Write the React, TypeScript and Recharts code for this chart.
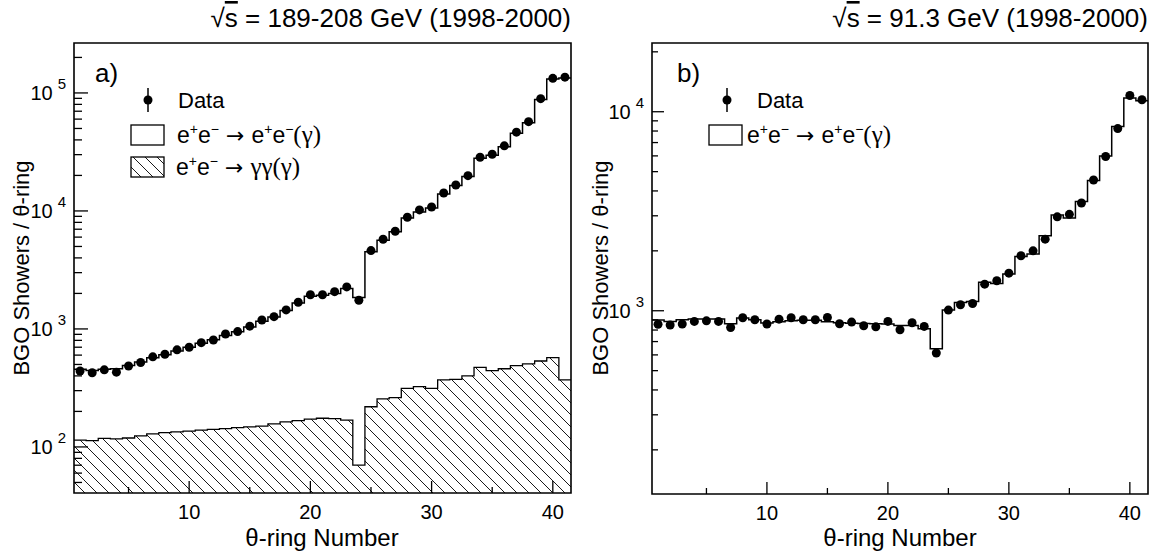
import React from 'react';
import { ComposedChart, Area, Line, Scatter, XAxis, YAxis, ReferenceArea } from 'recharts';

// theta-ring index of the BGO barrel/endcap rings
const rings = [
  1, 2, 3, 4, 5, 6, 7, 8, 9, 10, 11, 12, 13, 14, 15, 16, 17, 18, 19, 20,
  21, 22, 23, 24, 25, 26, 27, 28, 29, 30, 31, 32, 33, 34, 35, 36, 37, 38, 39, 40, 41,
];

// sqrt(s) = 189-208 GeV: observed showers per ring
const highEnergyData = [
  440, 425, 450, 430, 485, 520, 580, 610, 665, 700, 765, 805, 905, 950, 1055, 1190, 1270, 1450, 1685, 1950,
  1950, 2070, 2270, 1750, 4610, 5760, 6730, 8850, 10200, 10800, 14200, 16600, 19900, 28500, 30200, 35600,
  46500, 57100, 89500, 133000, 136000,
];
// sqrt(s) = 189-208 GeV: e+e- -> e+e-(gamma) expectation
const highEnergyBhabha = [
  455, 445, 455, 460, 490, 525, 570, 605, 650, 700, 755, 810, 880, 945, 1040, 1160, 1260, 1430, 1660, 1890,
  1930, 2000, 2200, 1850, 4500, 5650, 6650, 8700, 9800, 10600, 13900, 16400, 19600, 28000, 29600, 35000,
  45500, 56000, 88000, 131000, 134000,
];
// sqrt(s) = 189-208 GeV: e+e- -> gamma gamma(gamma) expectation
const highEnergyGammaGamma = [
  114, 113, 118, 117, 119, 124, 129, 132, 134, 136, 139, 141, 143, 146, 148, 150, 157, 163, 167, 172,
  175, 174, 169, 70, 219, 255, 262, 314, 324, 314, 370, 374, 400, 473, 443, 460, 489, 506, 535, 571, 370,
];

// sqrt(s) = 91.3 GeV: observed showers per ring
const zPoleData = [
  855, 848, 858, 884, 890, 884, 824, 922, 901, 858, 907, 922, 901, 901, 925, 860, 877, 841, 830, 884,
  803, 870, 834, 613, 1008, 1072, 1088, 1360, 1415, 1545, 1890, 2000, 2290, 2965, 3050, 3480, 4540, 5960,
  8230, 12070, 11480,
];
// sqrt(s) = 91.3 GeV: e+e- -> e+e-(gamma) expectation
const zPoleBhabha = [
  898, 884, 901, 908, 908, 908, 860, 919, 901, 867, 880, 890, 895, 895, 880, 870, 865, 862, 860, 858,
  844, 844, 812, 644, 1008, 1100, 1113, 1390, 1370, 1529, 1875, 1927, 2381, 3026, 2925, 3542, 4514, 6000,
  8420, 11720, 11350,
];

const ringTicks = [5, 10, 15, 20, 25, 30, 35, 40];
const highEnergyYTicks = [
  50, 60, 70, 80, 90, 100, 200, 300, 400, 500, 600, 700, 800, 900, 1000, 2000, 3000, 4000, 5000, 6000,
  7000, 8000, 9000, 10000, 20000, 30000, 40000, 50000, 60000, 70000, 80000, 90000, 100000, 200000,
];
const zPoleYTicks = [
  200, 300, 400, 500, 600, 700, 800, 900, 1000, 2000, 3000, 4000, 5000, 6000, 7000, 8000, 9000, 10000, 20000,
];

const ringDomain: [number, number] = [0.5, 41.5];
const highEnergyDomain: [number, number] = [40.7, 265000];
const zPoleDomain: [number, number] = [120, 22150];

const FONT = '"Liberation Sans", Arial, Helvetica, sans-serif';
const SERIF = '"Liberation Serif", "Times New Roman", serif';
const ARROW_FONT = '"DejaVu Sans", sans-serif';

const toPoints = (values: number[]) => rings.map((r, i) => ({ x: r, y: values[i] }));
// histogram outline: one row per lower bin edge plus the closing upper edge
const toSteps = (values: number[]) => [
  ...rings.map((r, i) => ({ x: r - 0.5, y: values[i] })),
  { x: rings[rings.length - 1] + 0.5, y: values[values.length - 1] },
];

function RingTick(props: any) {
  const { x, y, payload } = props;
  const major = payload.value % 10 === 0;
  return (
    <g>
      <line x1={x} x2={x} y1={y} y2={y - (major ? 12 : 6)} stroke="#000" strokeWidth={1.3} />
      {major && (
        <text x={x} y={y + 26} textAnchor="middle" fontSize={20} fontFamily={FONT} fill="#000">
          {payload.value}
        </text>
      )}
    </g>
  );
}

function makeLogTick(majorLen: number, minorLen: number) {
  return (props: any) => {
    const { x, y, payload } = props;
    const lg = Math.log10(payload.value);
    const exp = Math.round(lg);
    const decade = Math.abs(lg - exp) < 1e-6;
    return (
      <g>
        <line x1={x} x2={x + (decade ? majorLen : minorLen)} y1={y} y2={y} stroke="#000" strokeWidth={1.3} />
        {decade && (
          <text x={x - 8} y={y + 7} textAnchor="end" fontSize={20} fontFamily={FONT} fill="#000">
            10
            <tspan dx={5} dy={-11} fontSize={15}>
              {exp}
            </tspan>
          </text>
        )}
      </g>
    );
  };
}

function Marker(props: any) {
  const { cx, cy } = props;
  return <circle cx={cx} cy={cy} r={4.5} fill="#000" />;
}

function HatchPattern({ id }: { id: string }) {
  return (
    <pattern id={id} patternUnits="userSpaceOnUse" width={12} height={12}>
      <path d="M0,0 L12,12 M-3,9 L3,15 M9,-3 L15,3" stroke="#000" strokeWidth={0.9} />
    </pattern>
  );
}

type PanelProps = {
  left: number;
  width: number;
  margin: { top: number; right: number; bottom: number; left: number };
  domain: [number, number];
  yTicks: number[];
  data: number[];
  bhabha: number[];
  gammaGamma?: number[];
  majorLen: number;
  minorLen: number;
  hatchId: string;
};

function Panel(p: PanelProps) {
  return (
    <div style={{ position: 'absolute', left: p.left, top: 0 }}>
      <ComposedChart width={p.width} height={555} margin={p.margin}>
        <defs>
          <HatchPattern id={p.hatchId} />
        </defs>
        <XAxis
          type="number"
          dataKey="x"
          domain={ringDomain}
          allowDataOverflow
          ticks={ringTicks}
          interval={0}
          tickSize={0}
          tickMargin={0}
          axisLine={false}
          tick={RingTick}
          height={60}
        />
        <YAxis
          type="number"
          scale="log"
          domain={p.domain}
          allowDataOverflow
          ticks={p.yTicks}
          interval={0}
          tickSize={0}
          tickMargin={0}
          axisLine={false}
          tick={makeLogTick(p.majorLen, p.minorLen)}
          width={60}
        />
        {p.gammaGamma && (
          <Area
            type="stepAfter"
            data={toSteps(p.gammaGamma)}
            dataKey="y"
            baseValue={p.domain[0]}
            stroke="#000"
            strokeWidth={1.3}
            fill={`url(#${p.hatchId})`}
            fillOpacity={1}
            dot={false}
            activeDot={false}
            isAnimationActive={false}
          />
        )}
        <Line
          type="stepAfter"
          data={toSteps(p.bhabha)}
          dataKey="y"
          stroke="#000"
          strokeWidth={1.5}
          dot={false}
          activeDot={false}
          isAnimationActive={false}
        />
        <Scatter data={toPoints(p.data)} dataKey="y" fill="#000" shape={Marker} isAnimationActive={false} />
        <ReferenceArea
          x1={ringDomain[0]}
          x2={ringDomain[1]}
          y1={p.domain[0]}
          y2={p.domain[1]}
          fill="none"
          stroke="#000"
          strokeWidth={1.6}
          ifOverflow="visible"
        />
      </ComposedChart>
    </div>
  );
}

function Reaction({ x, y, gammaGamma }: { x: number; y: number; gammaGamma?: boolean }) {
  return (
    <text x={x} y={y} fontSize={23} fontFamily={FONT} fill="#000">
      e<tspan fontSize={14} dy={-9}>+</tspan>
      <tspan dy={9}>e</tspan>
      <tspan fontSize={14} dy={-9}>−</tspan>
      <tspan dy={9} fontFamily={ARROW_FONT} fontSize={22}> → </tspan>
      {gammaGamma ? (
        <tspan fontFamily={SERIF} fontSize={25}>γγ(γ)</tspan>
      ) : (
        <>
          <tspan>e</tspan>
          <tspan fontSize={14} dy={-9}>+</tspan>
          <tspan dy={9}>e</tspan>
          <tspan fontSize={14} dy={-9}>−</tspan>
          <tspan dy={9} fontFamily={SERIF} fontSize={25}>(γ)</tspan>
        </>
      )}
    </text>
  );
}

function Title({ x, label }: { x: number; label: string }) {
  return (
    <text x={x} y={27} textAnchor="end" fontSize={26} fontFamily={FONT} fill="#000">
      √<tspan style={{ textDecoration: 'overline' }}>s</tspan>
      {` = ${label} (1998-2000)`}
    </text>
  );
}

function DataKey({ x, y, textX }: { x: number; y: number; textX: number }) {
  return (
    <g>
      <line x1={x} x2={x} y1={y - 12} y2={y + 12} stroke="#000" strokeWidth={1.5} />
      <circle cx={x} cy={y} r={4.5} fill="#000" />
      <text x={textX} y={y + 8} fontSize={22} fontFamily={FONT} fill="#000">
        Data
      </text>
    </g>
  );
}

export default function App() {
  return (
    <div style={{ position: 'absolute', left: 0, top: 0, width: 1156, height: 555, background: '#fff' }}>
      <Panel
        left={0}
        width={600}
        margin={{ top: 43, right: 29, bottom: 2, left: 14 }}
        domain={highEnergyDomain}
        yTicks={highEnergyYTicks}
        data={highEnergyData}
        bhabha={highEnergyBhabha}
        gammaGamma={highEnergyGammaGamma}
        majorLen={14}
        minorLen={8}
        hatchId="hatch-high"
      />
      <Panel
        left={580}
        width={576}
        margin={{ top: 43, right: 8, bottom: 1, left: 12 }}
        domain={zPoleDomain}
        yTicks={zPoleYTicks}
        data={zPoleData}
        bhabha={zPoleBhabha}
        majorLen={12}
        minorLen={6}
        hatchId="hatch-z"
      />
      <svg
        width={1156}
        height={555}
        style={{ position: 'absolute', left: 0, top: 0, pointerEvents: 'none' }}
      >
        <defs>
          <HatchPattern id="hatch-legend" />
        </defs>
        <Title x={571} label="189-208 GeV" />
        <Title x={1148} label="91.3 GeV" />

        <text transform="translate(21,268) rotate(-90)" textAnchor="middle" dominantBaseline="central" fontSize={22} fontFamily={FONT}>
          BGO Showers / θ-ring
        </text>
        <text transform="translate(600,268) rotate(-90)" textAnchor="middle" dominantBaseline="central" fontSize={22} fontFamily={FONT}>
          BGO Showers / θ-ring
        </text>
        <text x={322} y={546} textAnchor="middle" fontSize={24} fontFamily={FONT}>θ-ring Number</text>
        <text x={900} y={546} textAnchor="middle" fontSize={24} fontFamily={FONT}>θ-ring Number</text>

        <text x={95} y={82} fontSize={26} fontFamily={FONT}>a)</text>
        <DataKey x={148} y={100} textX={178} />
        <rect x={131} y={125} width={33} height={20} fill="none" stroke="#000" strokeWidth={1.3} />
        <Reaction x={177} y={143} />
        <rect x={131} y={157} width={33} height={20} fill="url(#hatch-legend)" stroke="#000" strokeWidth={1.3} />
        <Reaction x={176} y={175} gammaGamma />

        <text x={677} y={82} fontSize={26} fontFamily={FONT}>b)</text>
        <DataKey x={727} y={100} textX={757} />
        <rect x={709} y={125} width={33} height={20} fill="none" stroke="#000" strokeWidth={1.3} />
        <Reaction x={747} y={143} />
      </svg>
    </div>
  );
}
